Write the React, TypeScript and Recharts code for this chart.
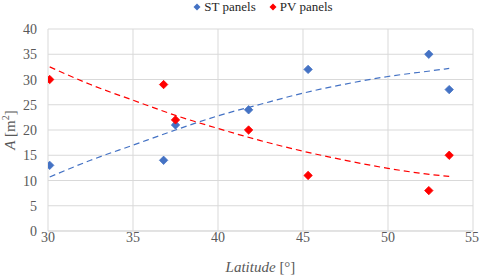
import React from "react";
import {
  ComposedChart,
  Line,
  Scatter,
  XAxis,
  YAxis,
  CartesianGrid,
  Legend,
} from "recharts";

const latitudes = [30.1, 36.8, 37.5, 41.8, 45.3, 52.4, 53.6];
const stPanels = [13, 14, 21, 24, 32, 35, 28];
const pvPanels = [30, 29, 22, 20, 11, 8, 15];

const trendLatitudes = [30.1, 32.5, 35, 37.5, 40, 42.5, 45, 47.5, 50, 52.5, 53.6];
const stTrend = [10.7, 14.0, 17.0, 20.0, 22.8, 25.1, 27.3, 29.1, 30.6, 31.7, 32.2];
const pvTrend = [32.5, 29.0, 25.9, 22.9, 20.3, 17.9, 15.8, 14.0, 12.4, 11.2, 10.8];

const xTicks = [30, 35, 40, 45, 50, 55];
const yTicks = [0, 5, 10, 15, 20, 25, 30, 35, 40];

const seriesNames = ["ST panels", "PV panels"];
const BLUE = "#4472C4";
const RED = "#FF0000";
const TEXT = "#595959";
const GRID = "#D9D9D9";
const FONT = "Liberation Serif";

const stPoints = latitudes.map((x, i) => ({ x, y: stPanels[i] }));
const pvPoints = latitudes.map((x, i) => ({ x, y: pvPanels[i] }));
const stTrendPoints = trendLatitudes.map((x, i) => ({ x, y: stTrend[i] }));
const pvTrendPoints = trendLatitudes.map((x, i) => ({ x, y: pvTrend[i] }));

const Diamond = (color: string) => (props: any) => {
  const { cx, cy } = props;
  const r = 4.2;
  return (
    <polygon
      points={`${cx},${cy - r} ${cx + r},${cy} ${cx},${cy + r} ${cx - r},${cy}`}
      fill={color}
      stroke={color}
      strokeWidth={0.8}
      strokeLinejoin="round"
    />
  );
};

const XTick = (props: any) => {
  const { x, y, payload } = props;
  return (
    <text
      x={x}
      y={y + 11}
      textAnchor="middle"
      style={{ fontFamily: FONT, fontSize: 14, fill: TEXT }}
    >
      {payload.value}
    </text>
  );
};

const YTick = (props: any) => {
  const { x, y, payload } = props;
  return (
    <text
      x={x}
      y={y + 5}
      textAnchor="end"
      style={{ fontFamily: FONT, fontSize: 14, fill: TEXT }}
    >
      {payload.value}
    </text>
  );
};

const LegendContent = () => {
  const colors = [BLUE, RED];
  return (
    <div
      style={{
        display: "flex",
        justifyContent: "center",
        alignItems: "center",
        fontFamily: FONT,
        fontSize: 13,
        color: "#262626",
        height: 14,
        lineHeight: "14px",
        paddingLeft: 46,
      }}
    >
      {seriesNames.map((name, i) => (
        <div
          key={name}
          style={{ display: "flex", alignItems: "center", marginLeft: i === 0 ? 0 : 13 }}
        >
          <svg width={8} height={8} style={{ marginRight: 3 }}>
            <polygon points="4,0.5 7.5,4 4,7.5 0.5,4" fill={colors[i]} />
          </svg>
          <span style={{ fontFamily: FONT }}>{name}</span>
        </div>
      ))}
    </div>
  );
};

const YLabel = (props: any) => {
  const vb = props.viewBox || {};
  const cy = (vb.y ?? 0) + (vb.height ?? 0) / 2;
  const cx = 15;
  return (
    <text
      x={cx}
      y={cy}
      transform={`rotate(-90, ${cx}, ${cy})`}
      textAnchor="middle"
      style={{ fontFamily: FONT, fontSize: 15, fill: TEXT }}
    >
      <tspan fontStyle="italic">A</tspan>
      <tspan> [m</tspan>
      <tspan fontSize={10} dy={-6}>2</tspan>
      <tspan dy={6}>]</tspan>
    </text>
  );
};

const XLabel = (props: any) => {
  const vb = props.viewBox || {};
  const cx = (vb.x ?? 0) + (vb.width ?? 0) / 2;
  return (
    <text
      x={cx}
      y={272}
      textAnchor="middle"
      style={{ fontFamily: FONT, fontSize: 15, fill: TEXT }}
    >
      <tspan fontStyle="italic">Latitude</tspan>
      <tspan> [°]</tspan>
    </text>
  );
};

export default function App() {
  return (
    <div style={{ position: "absolute", left: 0, top: 0, width: 480, height: 276, fontFamily: FONT }}>
      <ComposedChart
        width={480}
        height={276}
        margin={{ top: 15, right: 7, bottom: 15, left: 0 }}
        style={{ fontFamily: FONT }}
      >
        <CartesianGrid stroke={GRID} strokeWidth={1} />
        <XAxis
          type="number"
          dataKey="x"
          domain={[30, 55]}
          ticks={xTicks}
          allowDataOverflow
          height={30}
          axisLine={{ stroke: GRID }}
          tickLine={false}
          tickSize={0}
          tickMargin={0}
          tick={<XTick />}
          label={<XLabel />}
        />
        <YAxis
          type="number"
          domain={[0, 40]}
          ticks={yTicks}
          width={48}
          axisLine={false}
          tickLine={false}
          tickSize={0}
          tickMargin={11}
          tick={<YTick />}
          label={<YLabel />}
        />
        <Legend
          verticalAlign="top"
          height={14}
          wrapperStyle={{ top: 0, left: 0, width: 480 }}
          content={<LegendContent />}
        />
        <Line
          data={stTrendPoints}
          dataKey="y"
          type="monotone"
          stroke={BLUE}
          strokeWidth={1.2}
          strokeDasharray="6 4"
          dot={false}
          activeDot={false}
          isAnimationActive={false}
          legendType="none"
        />
        <Line
          data={pvTrendPoints}
          dataKey="y"
          type="monotone"
          stroke={RED}
          strokeWidth={1.2}
          strokeDasharray="6 4"
          dot={false}
          activeDot={false}
          isAnimationActive={false}
          legendType="none"
        />
        <Scatter
          name={seriesNames[0]}
          data={stPoints}
          dataKey="y"
          fill={BLUE}
          shape={Diamond(BLUE)}
          isAnimationActive={false}
        />
        <Scatter
          name={seriesNames[1]}
          data={pvPoints}
          dataKey="y"
          fill={RED}
          shape={Diamond(RED)}
          isAnimationActive={false}
        />
      </ComposedChart>
    </div>
  );
}
